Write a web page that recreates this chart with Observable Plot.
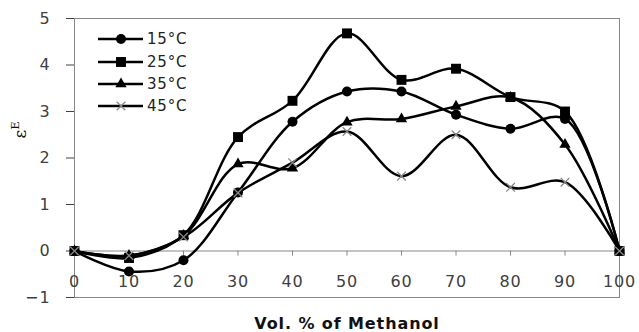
<!DOCTYPE html>
<html><head><meta charset="utf-8">
<script src="https://cdn.jsdelivr.net/npm/d3@7"></script>
<script src="https://cdn.jsdelivr.net/npm/@observablehq/plot@0.6"></script>
<style>
body{margin:0;background:#fff;}
#wrap{position:relative;width:639px;height:332px;}
#legend{position:absolute;left:96px;top:28px;font-family:"DejaVu Sans",sans-serif;font-size:15px;letter-spacing:0.8px;color:#222;}
.row{display:flex;align-items:center;height:22.4px;}
.row svg{display:block;}
.row span{margin-left:3px;}
</style></head>
<body><div id="wrap"><div id="legend"></div></div>
<script>
const volume = [0,10,20,30,40,50,60,70,80,90,100];
const seriesNames = ["15°C","25°C","35°C","45°C"];
const eps15 = [0,-0.44,-0.20,1.26,2.78,3.43,3.43,2.93,2.63,2.84,0];
const eps25 = [0,-0.15,0.34,2.45,3.23,4.68,3.68,3.92,3.31,3.00,0];
const eps35 = [0,-0.10,0.33,1.87,1.78,2.77,2.84,3.11,3.30,2.29,0];
const eps45 = [0,-0.10,0.30,1.25,1.90,2.57,1.61,2.50,1.37,1.48,0];
const xTicks = [0,10,20,30,40,50,60,70,80,90,100];
const yTicks = [-1,0,1,2,3,4,5];

const values = [eps15, eps25, eps35, eps45];
const symbols = ["circle","square","triangle","times"];
const radii = [5, 5.6, 4.2, 4];

const lineMarks = [];
seriesNames.forEach((name, i) => {
  const rows = volume.map((v, j) => ({x: v, y: values[i][j], series: name}));
  lineMarks.push(Plot.line(rows, {x: "x", y: "y", curve: "catmull-rom", stroke: "#000", strokeWidth: 2.5}));
  if (symbols[i] === "times") {
    lineMarks.push(Plot.dot(rows, {x: "x", y: "y", symbol: "times", r: radii[i], stroke: "#888", strokeWidth: 1.3}));
  } else {
    lineMarks.push(Plot.dot(rows, {x: "x", y: "y", symbol: symbols[i], r: radii[i], fill: "#000", stroke: "none"}));
  }
});

const chart = Plot.plot({
  width: 639, height: 332,
  marginLeft: 74, marginRight: 20, marginTop: 18, marginBottom: 35,
  style: {fontFamily: "DejaVu Sans, sans-serif", fontSize: "16px", color: "#404040", background: "#fff"},
  x: {domain: [0, 100], axis: null},
  y: {domain: [-1, 5], ticks: yTicks, tickFormat: d3.format("d"), tickSize: 8, tickPadding: 16, label: null},
  marks: [
    Plot.frame({stroke: "#888"}),
    Plot.ruleY([0], {stroke: "#888"}),
    Plot.ruleX(xTicks, {x: d => d, y1: 0, y2: -0.11, stroke: "#888"}),
    Plot.text(xTicks, {x: d => d, y: 0, dy: 31, text: d => String(d), fontSize: 16, fill: "#404040"}),
    Plot.text(["Vol. % of Methanol"], {frameAnchor: "bottom", dy: 31, text: d => d, fontSize: 16, fontWeight: "bold", fill: "#111"}),
    ...lineMarks
  ]
});
document.getElementById("wrap").prepend(chart);

// letter spacing for tick labels and title (style only)
d3.select(chart).selectAll("text").attr("letter-spacing", "0.9px");

// y-axis label: epsilon with superscript E
const svg = d3.select(chart);
const yl = svg.append("text")
  .attr("transform", "translate(26,130) rotate(-90)")
  .attr("text-anchor", "middle")
  .attr("font-family", "DejaVu Serif, serif")
  .attr("font-size", 17)
  .attr("fill", "#111");
yl.append("tspan").text("ε");
yl.append("tspan").attr("font-size", 11).attr("dy", -7).text("E");

// legend
const legend = d3.select("#legend");
seriesNames.forEach((name, i) => {
  const row = legend.append("div").attr("class", "row");
  const s = row.append("svg").attr("width", 48).attr("height", 22);
  s.append("line").attr("x1", 2).attr("x2", 47).attr("y1", 11).attr("y2", 11).attr("stroke", "#000").attr("stroke-width", 2.5);
  const sym = {circle: d3.symbolCircle, square: d3.symbolSquare, triangle: d3.symbolTriangle, times: d3.symbolTimes}[symbols[i]];
  const size = Math.PI * radii[i] * radii[i];
  const p = s.append("path").attr("transform", "translate(25,11)").attr("d", d3.symbol(sym, size)());
  if (symbols[i] === "times") p.attr("fill", "none").attr("stroke", "#888").attr("stroke-width", 1.3);
  else p.attr("fill", "#000");
  row.append("span").text(name);
});
</script>
</body></html>
